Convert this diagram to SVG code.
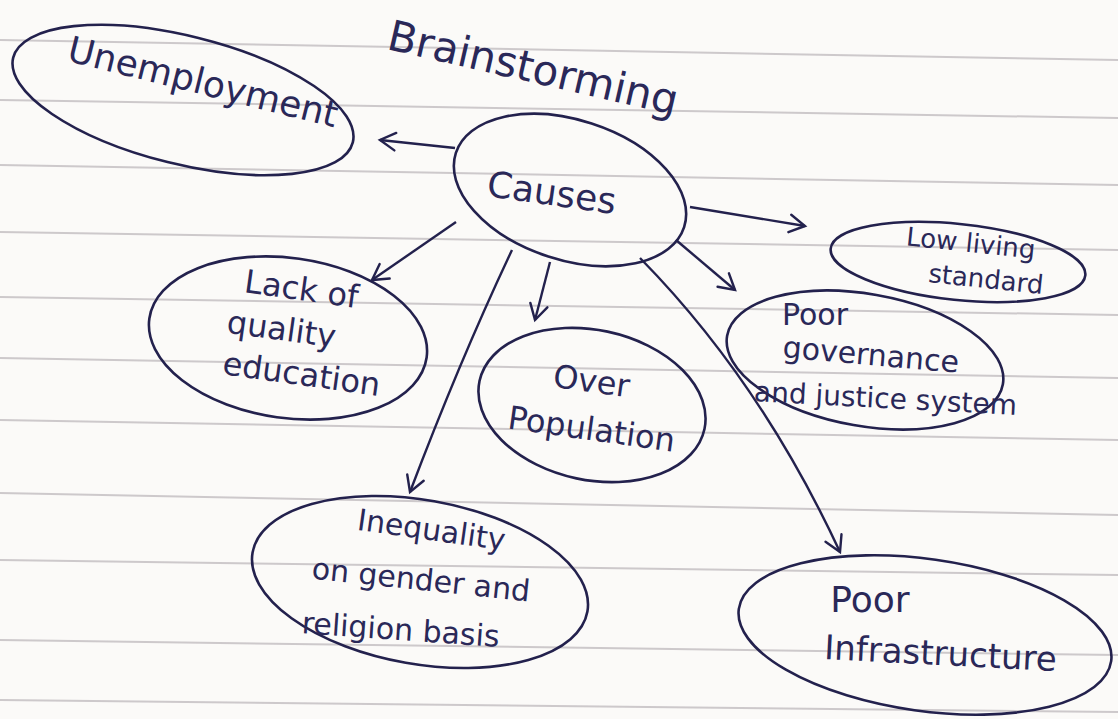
<svg xmlns="http://www.w3.org/2000/svg" width="1118" height="719" viewBox="0 0 1118 719">
<defs>
<marker id="ah" viewBox="0 0 20 20" refX="16" refY="10" markerWidth="22" markerHeight="22" markerUnits="userSpaceOnUse" orient="auto">
<path d="M2,2 L16,10 L2,18" fill="none" stroke="#23214d" stroke-width="2.2" stroke-linecap="round"/>
</marker>
</defs>
<style>
.paper{fill:#fbfaf8}
.rule{stroke:#b9b4b8;stroke-width:2;fill:none;opacity:0.7}
.node{fill:none;stroke:#23214d;stroke-width:2.6}
.t{font-family:"DejaVu Sans","Liberation Sans",sans-serif;fill:#2a2858;text-anchor:middle}
.edge{fill:none;stroke:#23214d;stroke-width:2.4;marker-end:url(#ah)}
</style>
<rect class="paper" x="0" y="0" width="1118" height="719"/>
<g id="rules">
<path class="rule" d="M0,40 L1118,60"/>
<path class="rule" d="M0,100 L1118,118"/>
<path class="rule" d="M0,165 L1118,185"/>
<path class="rule" d="M0,232 L1118,250"/>
<path class="rule" d="M0,297 L1118,315"/>
<path class="rule" d="M0,358 L1118,378"/>
<path class="rule" d="M0,420 L1118,440"/>
<path class="rule" d="M0,493 L1118,515"/>
<path class="rule" d="M0,560 L1118,575"/>
<path class="rule" d="M0,640 L1118,655"/>
<path class="rule" d="M0,700 L1118,712"/>
</g>
<g id="title">
<text class="t" x="530" y="82" font-size="42" transform="rotate(13 530 82)">Brainstorming</text>
</g>
<g id="unemployment">
<ellipse class="node" cx="183" cy="100" rx="175" ry="64" transform="rotate(14 183 100)"/>
<text class="t" x="200" y="94" font-size="36" transform="rotate(14 200 94)">Unemployment</text>
</g>
<g id="causes">
<ellipse class="node" cx="570" cy="190" rx="120" ry="70" transform="rotate(18 570 190)"/>
<text class="t" x="550" y="205" font-size="36" transform="rotate(8 550 205)">Causes</text>
</g>
<g id="lack">
<ellipse class="node" cx="288" cy="338" rx="140" ry="80" transform="rotate(8 288 338)"/>
<text class="t" x="300" y="300" font-size="32" transform="rotate(8 300 300)">Lack of</text>
<text class="t" x="280" y="340" font-size="32" transform="rotate(8 280 340)">quality</text>
<text class="t" x="300" y="385" font-size="32" transform="rotate(8 300 385)">education</text>
</g>
<g id="overpop">
<ellipse class="node" cx="592" cy="405" rx="115" ry="75" transform="rotate(12 592 405)"/>
<text class="t" x="590" y="392" font-size="32" transform="rotate(8 590 392)">Over</text>
<text class="t" x="590" y="440" font-size="32" transform="rotate(8 590 440)">Population</text>
</g>
<g id="lowliving">
<ellipse class="node" cx="958" cy="262" rx="128" ry="38" transform="rotate(6 958 262)"/>
<text class="t" x="970" y="252" font-size="26" transform="rotate(6 970 252)">Low living</text>
<text class="t" x="985" y="288" font-size="26" transform="rotate(6 985 288)">standard</text>
</g>
<g id="governance">
<ellipse class="node" cx="865" cy="360" rx="140" ry="66" transform="rotate(10 865 360)"/>
<text class="t" x="815" y="325" font-size="30">Poor</text>
<text class="t" x="870" y="365" font-size="30" transform="rotate(5 870 365)">governance</text>
<text class="t" x="885" y="408" font-size="28" transform="rotate(3 885 408)">and justice system</text>
</g>
<g id="inequality">
<ellipse class="node" cx="420" cy="582" rx="170" ry="82" transform="rotate(10 420 582)"/>
<text class="t" x="430" y="540" font-size="30" transform="rotate(8 430 540)">Inequality</text>
<text class="t" x="420" y="590" font-size="30" transform="rotate(6 420 590)">on gender and</text>
<text class="t" x="400" y="640" font-size="30" transform="rotate(4 400 640)">religion basis</text>
</g>
<g id="infrastructure">
<ellipse class="node" cx="925" cy="635" rx="188" ry="76" transform="rotate(8 925 635)"/>
<text class="t" x="870" y="612" font-size="36">Poor</text>
<text class="t" x="940" y="665" font-size="34" transform="rotate(3 940 665)">Infrastructure</text>
</g>
<g id="connectors">
<path class="edge" d="M455,148 L380,140"/>
<path class="edge" d="M690,207 L805,226"/>
<path class="edge" d="M676,240 L735,290"/>
<path class="edge" d="M456,222 L372,280"/>
<path class="edge" d="M550,262 L535,320"/>
<path class="edge" d="M512,250 Q460,360 410,492"/>
<path class="edge" d="M640,258 Q760,380 840,552"/>
</g>
</svg>
